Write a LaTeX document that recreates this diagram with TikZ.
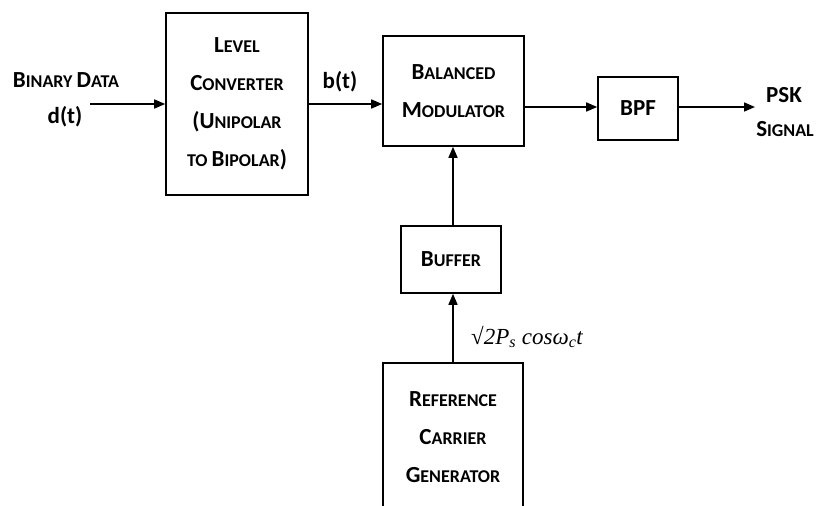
\documentclass[tikz,border=0pt]{standalone}
\usepackage{fontspec}
\setmainfont{Carlito}[BoldFont=* Bold]
\newfontfamily\mathlike{Liberation Serif}
\usetikzlibrary{arrows.meta}
\newcommand\ulc[2]{{\fontsize{23pt}{38pt}\selectfont #1}{\fontsize{18pt}{38pt}\selectfont #2}}
\tikzset{
  blk/.style={draw, line width=1.6pt, inner sep=0pt, align=center,
    font=\bfseries\fontsize{18pt}{38pt}\selectfont},
  lbl/.style={inner sep=0pt, align=center, font=\bfseries\fontsize{18pt}{38pt}\selectfont},
  arr/.style={line width=1.6pt, -{Triangle[length=11pt,width=9pt]}},
}
\begin{document}
\begin{tikzpicture}[x=1pt,y=-1pt]
\useasboundingbox (0,0) rectangle (817,506);
\clip (0,0) rectangle (817,506);
\node[blk, minimum width=142pt, minimum height=182pt] (lc) at (237,104)
  {\ulc{L}{EVEL}\\\ulc{C}{ONVERTER}\\\ulc{(U}{NIPOLAR}\\\ulc{}{TO} \ulc{B}{IPOLAR}\ulc{)}{}};
\node[blk, minimum width=141pt, minimum height=110pt] (bm) at (453.5,91)
  {\ulc{B}{ALANCED}\\\ulc{M}{ODULATOR}};
\node[blk, minimum width=80pt, minimum height=63pt] (bpf) at (638,108.5)
  {\ulc{BPF}{}};
\node[blk, minimum width=100pt, minimum height=67pt] (buf) at (451,259.5)
  {\ulc{B}{UFFER}};
\node[blk, minimum width=140pt, minimum height=148pt] (rcg) at (453,437)
  {\ulc{R}{EFERENCE}\\\ulc{C}{ARRIER}\\\ulc{G}{ENERATOR}};
\node[lbl] (bd) at (66,80) {\ulc{B}{INARY} \ulc{D}{ATA}};
\node[lbl] (dt) at (65,117) {\ulc{d(t)}{}};
\node[lbl] (bt) at (340,82) {\ulc{b(t)}{}};
\node[lbl] (psk) at (784,95) {\ulc{PSK}{}};
\node[lbl] (sig) at (785,129) {\ulc{S}{IGNAL}};
\node[inner sep=0pt, font=\mathlike\itshape\fontsize{23pt}{26pt}\selectfont] (car) at (527,337)
  {\upshape√\itshape2P\textsubscript{s} cosω\textsubscript{c}t};
\coordinate (in) at (90,104);
\coordinate (out) at (755,107);
\draw[arr] (in) -- (in -| lc.west);
\draw[arr] (lc.east) -- (lc.east -| bm.west);
\draw[arr] (bm.east |- 0,107) -- (bpf.west |- 0,107);
\draw[arr] (bpf.east |- out) -- (out);
\draw[arr] (buf.north -| 453,0) -- (bm.south -| 453,0);
\draw[arr] (rcg.north) -- (rcg.north |- buf.south);
\end{tikzpicture}
\end{document}
